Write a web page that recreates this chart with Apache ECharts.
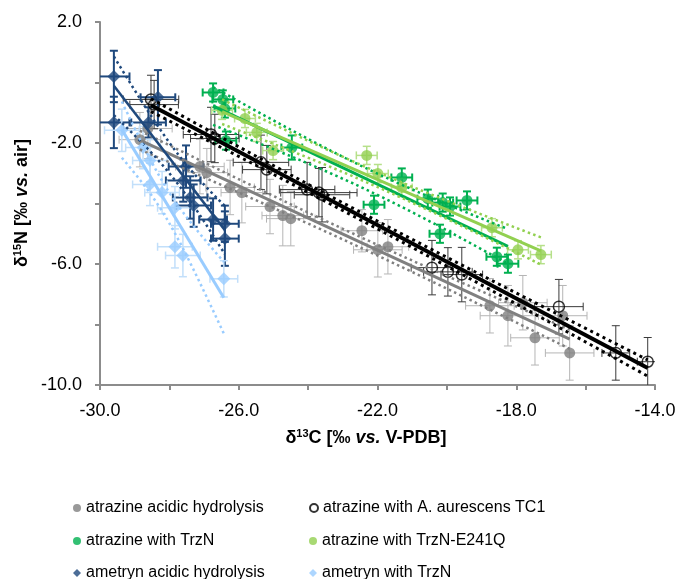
<!DOCTYPE html>
<html><head><meta charset="utf-8">
<script src="https://cdn.jsdelivr.net/npm/echarts@6/dist/echarts.min.js"></script>
<style>html,body{margin:0;padding:0;background:#fff}#c{width:679px;height:579px}</style>
</head><body><div id="c"></div>
<script>
// ---------- data (δ13C, δ15N, error bars) ----------
const seriesNames = ['atrazine acidic hydrolysis', 'atrazine with A. aurescens TC1', 'atrazine with TrzN',
  'atrazine with TrzN-E241Q', 'ametryn acidic hydrolysis', 'ametryn with TrzN'];

const atzAcidC = [-28.85,-28.62,-27.12,-26.92,-26.25,-25.91,-25.10,-24.73,-24.50,-22.45,-21.99,-21.70,-18.76,-18.24,-17.81,-17.46,-16.66,-16.46];
const atzAcidN = [-1.89,-1.52,-2.78,-2.98,-3.47,-3.64,-4.10,-4.40,-4.50,-4.90,-5.53,-5.43,-7.38,-7.71,-7.28,-8.44,-7.71,-8.94];
const atzAcidCErr = [0.6,0.7,0.7,0.6,0.7,0.6,0.7,0.6,0.7,0.6,0.7,0.6,0.7,0.8,0.7,0.7,0.7,0.7];
const atzAcidNErr = [0.9,1.0,0.9,0.8,0.9,1.0,0.9,1.0,0.9,0.7,0.9,0.9,0.9,1.0,0.9,0.9,1.0,0.9];

const atzAurC = [-28.53,-28.44,-26.80,-26.69,-25.36,-25.19,-24.03,-23.69,-23.60,-20.43,-19.97,-19.57,-16.77,-15.13,-14.21];
const atzAurN = [-0.56,-0.73,-1.72,-1.85,-2.64,-2.88,-3.54,-3.64,-3.71,-6.12,-6.26,-6.35,-7.41,-8.94,-9.23];
const atzAurCErr = [0.8,0.7,0.8,0.7,0.8,0.7,0.8,1.1,0.8,0.6,0.7,0.6,0.7,0.4,0.3];
const atzAurNErr = [0.8,0.8,0.9,0.8,0.9,0.8,0.9,0.8,0.9,0.9,0.8,0.9,0.9,0.9,0.8];

const atzTrzNC = [-26.74,-26.46,-26.40,-26.37,-24.47,-22.10,-21.30,-20.55,-20.12,-19.91,-19.42,-20.20,-18.56,-18.24];
const atzTrzNN = [-0.33,-0.56,-0.86,-1.92,-2.15,-4.04,-3.14,-3.84,-3.97,-4.10,-3.90,-5.00,-5.76,-5.99];
const atzTrzNCErr = [0.3,0.3,0.3,0.3,0.3,0.3,0.3,0.3,0.3,0.3,0.3,0.3,0.3,0.3];
const atzTrzNNErr = [0.3,0.3,0.3,0.3,0.4,0.3,0.3,0.3,0.3,0.3,0.3,0.3,0.3,0.3];

const atzE241QC = [-26.48,-25.82,-25.48,-25.01,-22.31,-21.99,-21.30,-18.70,-17.95,-17.29];
const atzE241QN = [-0.92,-1.19,-1.65,-2.25,-2.41,-3.01,-3.47,-4.80,-5.53,-5.69];
const atzE241QCErr = [0.3,0.3,0.3,0.3,0.3,0.3,0.3,0.3,0.3,0.3];
const atzE241QNErr = [0.3,0.3,0.3,0.3,0.3,0.3,0.3,0.3,0.3,0.3];

const ameAcidC = [-29.6,-29.6,-28.6,-28.33,-27.52,-27.6,-27.4,-27.3,-26.74,-26.4,-26.4];
const ameAcidN = [0.20,-1.32,-1.32,-0.49,-2.78,-3.24,-3.80,-4.07,-4.53,-4.67,-5.16];
const ameAcidCErr = [0.45,0.45,0.5,0.5,0.5,0.5,0.5,0.5,0.4,0.4,0.4];
const ameAcidNErr = [0.85,0.85,0.5,0.9,0.7,0.7,0.7,0.7,0.7,0.6,0.9];

const ameTrzNC = [-29.37,-28.76,-28.56,-28.56,-28.21,-27.84,-27.84,-27.61,-26.43];
const ameTrzNN = [-1.58,-2.15,-2.58,-3.37,-3.64,-4.14,-5.43,-5.72,-6.49];
const ameTrzNCErr = [0.5,0.5,0.5,0.5,0.5,0.5,0.5,0.5,0.4];
const ameTrzNNErr = [0.7,0.7,0.7,0.7,0.7,0.7,0.7,0.7,0.6];

const xTicks = { min: -30, max: -14, step: 2 };
const yTicks = { min: -10, max: 2, step: 2 };

// ---------- helpers ----------
const FONT = '"Liberation Sans", Arial, Helvetica, sans-serif';
const T95 = {5:2.571,6:2.447,7:2.365,8:2.306,9:2.262,10:2.228,11:2.201,12:2.179,13:2.160,14:2.145,15:2.131,16:2.120,17:2.110,18:2.101};

function regression(xs, ys) {
  const n = xs.length;
  const mx = xs.reduce((a, b) => a + b, 0) / n;
  const my = ys.reduce((a, b) => a + b, 0) / n;
  let sxx = 0, sxy = 0;
  for (let i = 0; i < n; i++) { sxx += (xs[i] - mx) ** 2; sxy += (xs[i] - mx) * (ys[i] - my); }
  const b = sxy / sxx, a = my - b * mx;
  let sse = 0;
  for (let i = 0; i < n; i++) sse += (ys[i] - a - b * xs[i]) ** 2;
  const s = Math.sqrt(sse / (n - 2));
  const t = T95[n - 2] || 2.0;
  const x0 = Math.min(...xs), x1 = Math.max(...xs);
  const line = [[x0, a + b * x0], [x1, a + b * x1]];
  const up = [], lo = [];
  const K = 40;
  for (let k = 0; k <= K; k++) {
    const x = x0 + (x1 - x0) * k / K;
    const h = t * s * Math.sqrt(1 / n + (x - mx) ** 2 / sxx);
    up.push([x, a + b * x + h]);
    lo.push([x, a + b * x - h]);
  }
  return { line, up, lo };
}

function errSeries(xs, ys, ex, ey, color, width, cap) {
  return {
    type: 'custom', silent: true, z: 1, clip: true,
    data: xs.map((x, i) => [x, ys[i], ex[i], ey[i]]),
    encode: { x: 0, y: 1 },
    renderItem(params, api) {
      const x = api.value(0), y = api.value(1), dx = api.value(2), dy = api.value(3);
      const l = api.coord([x - dx, y]), r = api.coord([x + dx, y]);
      const t = api.coord([x, y + dy]), b = api.coord([x, y - dy]);
      const st = { stroke: color, lineWidth: width, fill: null };
      return { type: 'group', children: [
        { type: 'line', shape: { x1: l[0], y1: l[1], x2: r[0], y2: r[1] }, style: st },
        { type: 'line', shape: { x1: l[0], y1: l[1] - cap, x2: l[0], y2: l[1] + cap }, style: st },
        { type: 'line', shape: { x1: r[0], y1: r[1] - cap, x2: r[0], y2: r[1] + cap }, style: st },
        { type: 'line', shape: { x1: t[0], y1: t[1], x2: b[0], y2: b[1] }, style: st },
        { type: 'line', shape: { x1: t[0] - cap, y1: t[1], x2: t[0] + cap, y2: t[1] }, style: st },
        { type: 'line', shape: { x1: b[0] - cap, y1: b[1], x2: b[0] + cap, y2: b[1] }, style: st }
      ]};
    }
  };
}

function fitSeries(xs, ys, color, lw, dotW) {
  const r = regression(xs, ys);
  const base = { type: 'line', silent: true, showSymbol: false, symbol: 'none', z: 5, animation: false };
  return [
    Object.assign({}, base, { data: r.up, lineStyle: { color, width: dotW, type: [dotW, dotW * 1.3] } }),
    Object.assign({}, base, { data: r.lo, lineStyle: { color, width: dotW, type: [dotW, dotW * 1.3] } }),
    Object.assign({}, base, { data: r.line, lineStyle: { color, width: lw } })
  ];
}

function scatter(name, xs, ys, symbol, size, itemStyle) {
  return { type: 'scatter', name, symbol, symbolSize: size, z: 3,
    data: xs.map((x, i) => [x, ys[i]]), itemStyle };
}

const groups = [
  { n: 0, xs: atzAcidC, ys: atzAcidN, ex: atzAcidCErr, ey: atzAcidNErr, col: '#808080', errCol: '#b5b5b5', errW: 1, cap: 4,
    sym: 'circle', size: 11, style: { color: '#808080' }, lw: 3, dw: 2.5 },
  { n: 1, xs: atzAurC, ys: atzAurN, ex: atzAurCErr, ey: atzAurNErr, col: '#000000', errCol: '#3a3a3a', errW: 1, cap: 4,
    sym: 'circle', size: 11, style: { color: 'rgba(255,255,255,0)', borderColor: '#000', borderWidth: 1.5 }, lw: 4, dw: 3 },
  { n: 2, xs: atzTrzNC, ys: atzTrzNN, ex: atzTrzNCErr, ey: atzTrzNNErr, col: '#00b050', errCol: '#00b050', errW: 2, cap: 4,
    sym: 'circle', size: 11, style: { color: '#00b050' }, lw: 3, dw: 2.5 },
  { n: 3, xs: atzE241QC, ys: atzE241QN, ex: atzE241QCErr, ey: atzE241QNErr, col: '#92d050', errCol: '#b6e08a', errW: 1.5, cap: 4,
    sym: 'circle', size: 11, style: { color: '#92d050' }, lw: 3, dw: 2.5 },
  { n: 4, xs: ameAcidC, ys: ameAcidN, ex: ameAcidCErr, ey: ameAcidNErr, col: '#1f497d', errCol: '#1f497d', errW: 2, cap: 4,
    sym: 'diamond', size: 13, style: { color: '#1f497d' }, lw: 2.5, dw: 2.5 },
  { n: 5, xs: ameTrzNC, ys: ameTrzNN, ex: ameTrzNCErr, ey: ameTrzNNErr, col: '#99ccff', errCol: '#c2dffa', errW: 1.5, cap: 4,
    sym: 'diamond', size: 13, style: { color: '#99ccff' }, lw: 3, dw: 2.5 }
];

const series = [];
groups.forEach(g => series.push(errSeries(g.xs, g.ys, g.ex, g.ey, g.errCol, g.errW, g.cap)));
groups.forEach(g => series.push(scatter(seriesNames[g.n], g.xs, g.ys, g.sym, g.size, g.style)));
groups.forEach(g => series.push(...fitSeries(g.xs, g.ys, g.col, g.lw, g.dw)));

const axisCommon = {
  type: 'value',
  axisLine: { show: true, onZero: false, lineStyle: { color: '#8c8c8c', width: 2 } },
  axisTick: { show: true, inside: false, length: 5, lineStyle: { color: '#8c8c8c', width: 2 } },
  splitLine: { show: false },
  axisLabel: { color: '#000', fontSize: 18, fontFamily: FONT }
};

const legendText = { color: '#000', fontSize: 16, fontFamily: FONT, lineHeight: 20 };
// legend layout: column x (icon left) and row y (item top)
const legendCols = [68, 304];
const legendRows = [493, 526, 558];
const legends = seriesNames.map((nm, i) => ({
  left: legendCols[i % 2], top: legendRows[Math.floor(i / 2)],
  itemWidth: 8, itemHeight: 8, data: [nm], textStyle: legendText, selectedMode: false
}));

const option = {
  animation: false,
  backgroundColor: '#fff',
  grid: { left: 100, right: 24, top: 22, bottom: 194, containLabel: false, outerBoundsMode: 'none' },
  xAxis: Object.assign({}, axisCommon, {
    min: xTicks.min, max: xTicks.max, interval: xTicks.step,
    axisLabel: Object.assign({}, axisCommon.axisLabel, { margin: 17,
      formatter: v => ((Math.round(v) - xTicks.min) % 4 === 0 ? v.toFixed(1) : '') })
  }),
  yAxis: Object.assign({}, axisCommon, {
    min: yTicks.min, max: yTicks.max, interval: yTicks.step,
    axisLabel: Object.assign({}, axisCommon.axisLabel, { margin: 18,
      formatter: v => ((yTicks.max - Math.round(v)) % 4 === 0 ? v.toFixed(1) : '') })
  }),
  legend: legends,
  graphic: [
    { type: 'text', x: 366, y: 438, z: 10,
      style: { text: '{b|δ}{s|13}{b|C [‰ }{i|vs.}{b| V-PDB]}', align: 'center', verticalAlign: 'middle',
        rich: { b: { fontSize: 18, fontWeight: 'bold', fontFamily: FONT, fill: '#000' },
                s: { fontSize: 11, fontWeight: 'bold', fontFamily: FONT, fill: '#000', padding: [0, 0, 9, 0] },
                i: { fontSize: 18, fontWeight: 'bold', fontStyle: 'italic', fontFamily: FONT, fill: '#000' } } } },
    { type: 'text', x: 22, y: 203, rotation: Math.PI / 2, z: 10,
      style: { text: '{b|δ}{s|15}{b|N [‰ }{i|vs.}{b| air]}', align: 'center', verticalAlign: 'middle',
        rich: { b: { fontSize: 18, fontWeight: 'bold', fontFamily: FONT, fill: '#000' },
                s: { fontSize: 11, fontWeight: 'bold', fontFamily: FONT, fill: '#000', padding: [0, 0, 9, 0] },
                i: { fontSize: 18, fontWeight: 'bold', fontStyle: 'italic', fontFamily: FONT, fill: '#000' } } } }
  ],
  series
};

const chart = echarts.init(document.getElementById('c'), null, { renderer: 'canvas' });
chart.setOption(option);
</script>
</body></html>
